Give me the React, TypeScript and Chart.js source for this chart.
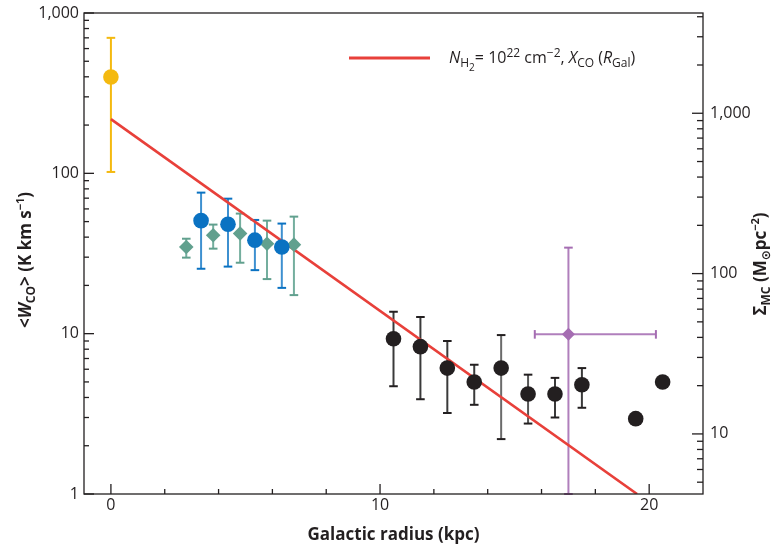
import React, { useEffect, useRef } from "react";
import { Chart, registerables } from "chart.js";
Chart.register(...registerables);

// ---- data (Galactic radius in kpc, W_CO in K km s^-1) ----
const modelR = [0, 19.55];
const modelW = [218, 1];

const yellowR = [0];
const yellowW = [399];
const yellowLo = [102];
const yellowHi = [700];

const tealR = [2.8, 3.8, 4.8, 5.8, 6.8];
const tealW = [34.7, 41.1, 42.1, 36.4, 35.9];
const tealLo = [29.8, 33.9, 27.7, 21.9, 17.4];
const tealHi = [39.1, 47.9, 56.1, 50.7, 53.7];

const blueR = [3.35, 4.35, 5.35, 6.35];
const blueW = [50.7, 48.1, 38.3, 34.7];
const blueLo = [25.4, 26.2, 24.9, 19.3];
const blueHi = [75.8, 69.5, 51.2, 48.6];

const blackR = [10.5, 11.5, 12.5, 13.5, 14.5, 15.5, 16.5, 17.5, 19.5, 20.5];
const blackW = [9.3, 8.3, 6.1, 5.0, 6.1, 4.2, 4.2, 4.8, 2.95, 5.0];
const blackLo = [4.7, 3.9, 3.2, 3.6, 2.2, 2.75, 3.0, 3.45, null, null];
const blackHi = [13.7, 12.7, 9.0, 6.4, 9.8, 5.55, 5.3, 6.1, null, null];

const purpleR = [17.0];
const purpleW = [9.9];
const purpleLo = [1.0];
const purpleHi = [34.4];
const purpleRLo = [15.75];
const purpleRHi = [20.25];

const xTickLabels = [0, 10, 20];
const xMinorTicks = [2, 4, 6, 8, 12, 14, 16, 18];
const yTickLabels = [1, 10, 100, 1000];
const y2TickLabels = [10, 100, 1000];

const INK = "#231F20";
const FONT = "'Open Sans', 'Noto Sans', 'DejaVu Sans', sans-serif";

type Seg = { t: string; size: number; bold?: boolean; italic?: boolean; dy?: number };

function fontOf(s: Seg) {
  return `${s.italic ? "italic " : ""}${s.bold ? "bold " : ""}${s.size}px ${FONT}`;
}

function drawRich(ctx: CanvasRenderingContext2D, segs: Seg[], x: number, y: number, center: boolean) {
  ctx.textBaseline = "alphabetic";
  ctx.textAlign = "left";
  let total = 0;
  for (const s of segs) {
    ctx.font = fontOf(s);
    total += ctx.measureText(s.t).width;
  }
  let cx = center ? x - total / 2 : x;
  for (const s of segs) {
    ctx.font = fontOf(s);
    ctx.fillText(s.t, cx, y + (s.dy || 0));
    cx += ctx.measureText(s.t).width;
  }
}

const pts = (xs: number[], ys: number[]) => xs.map((v, i) => ({ x: v, y: ys[i] }));

const decor = {
  id: "decor",
  beforeDatasetsDraw(chart: any) {
    const { ctx, chartArea: a } = chart;
    const x = chart.scales.x;
    const y = chart.scales.y;
    ctx.save();
    ctx.beginPath();
    ctx.rect(a.left, a.top - 2, a.right - a.left, a.bottom - a.top + 4);
    ctx.clip();
    ctx.lineWidth = 2;
    ctx.lineCap = "butt";
    const seg = (x1: number, y1: number, x2: number, y2: number, c: string) => {
      ctx.strokeStyle = c;
      ctx.beginPath();
      ctx.moveTo(x1, y1);
      ctx.lineTo(x2, y2);
      ctx.stroke();
    };
    chart.data.datasets.forEach((ds: any) => {
      const e = ds.err;
      if (!e) return;
      ds.data.forEach((p: any, i: number) => {
        const px = x.getPixelForValue(p.x);
        const py = y.getPixelForValue(p.y);
        const lc = Array.isArray(e.line) ? e.line[i] : e.line;
        const cc = Array.isArray(e.cap) ? e.cap[i] : e.cap;
        const cw = 4.3;
        if (e.lo && e.lo[i] != null && e.hi[i] != null) {
          const yl = y.getPixelForValue(e.lo[i]);
          const yh = y.getPixelForValue(e.hi[i]);
          seg(px, yl, px, yh, lc);
          seg(px - cw, yl, px + cw, yl, cc);
          seg(px - cw, yh, px + cw, yh, cc);
        }
        if (e.xlo && e.xlo[i] != null) {
          const xl = x.getPixelForValue(e.xlo[i]);
          const xh = x.getPixelForValue(e.xhi[i]);
          seg(xl, py, xh, py, lc);
          seg(xl, py - cw, xl, py + cw, cc);
          seg(xh, py - cw, xh, py + cw, cc);
        }
      });
    });
    ctx.restore();
  },
  afterDraw(chart: any) {
    const { ctx, chartArea: a } = chart;
    const x = chart.scales.x;
    const y = chart.scales.y;
    const y2 = chart.scales.y2;
    ctx.save();
    ctx.strokeStyle = INK;
    ctx.lineWidth = 1.3;
    ctx.strokeRect(a.left, a.top, a.right - a.left, a.bottom - a.top);
    const line = (x1: number, y1: number, x2: number, y2v: number) => {
      ctx.beginPath();
      ctx.moveTo(x1, y1);
      ctx.lineTo(x2, y2v);
      ctx.stroke();
    };
    xTickLabels.forEach((v) => {
      const p = x.getPixelForValue(v);
      line(p, a.bottom, p, a.bottom - 10);
    });
    xMinorTicks.forEach((v) => {
      const p = x.getPixelForValue(v);
      line(p, a.bottom, p, a.bottom - 5);
    });
    yTickLabels.forEach((v) => {
      const p = y.getPixelForValue(v);
      line(a.left, p, a.left + 10, p);
    });
    [1, 10, 100].forEach((d) => {
      for (let m = 2; m <= 9; m++) {
        const p = y.getPixelForValue(d * m);
        line(a.left, p, a.left + 5, p);
      }
    });
    y2TickLabels.forEach((v) => {
      const p = y2.getPixelForValue(v);
      line(a.right, p, a.right - 11, p);
    });
    [1, 10, 100, 1000].forEach((d) => {
      for (let m = 2; m <= 9; m++) {
        const v = d * m;
        if (v < y2.min || v > y2.max) continue;
        const p = y2.getPixelForValue(v);
        line(a.right, p, a.right - 6, p);
      }
    });

    ctx.fillStyle = INK;
    ctx.font = `bold 17px ${FONT}`;
    ctx.textAlign = "center";
    ctx.textBaseline = "middle";
    ctx.fillText("Galactic radius (kpc)", (a.left + a.right) / 2, 535);

    ctx.save();
    ctx.translate(31, 260);
    ctx.rotate(-Math.PI / 2);
    drawRich(
      ctx,
      [
        { t: "<", size: 17, bold: true },
        { t: "W", size: 17, bold: true, italic: true },
        { t: "CO", size: 12, bold: true, dy: 4 },
        { t: "> (K km s", size: 17, bold: true },
        { t: "\u22121", size: 11, bold: true, dy: -7 },
        { t: ")", size: 17, bold: true },
      ],
      0,
      0,
      true
    );
    ctx.restore();

    ctx.save();
    ctx.translate(766, 264);
    ctx.rotate(-Math.PI / 2);
    drawRich(
      ctx,
      [
        { t: "\u03A3", size: 17, bold: true },
        { t: "MC", size: 12, bold: true, dy: 4 },
        { t: " (M", size: 17, bold: true },
        { t: "\u2299", size: 12, bold: true, dy: 4 },
        { t: "pc", size: 17, bold: true },
        { t: "\u22122", size: 11, bold: true, dy: -7 },
        { t: ")", size: 17, bold: true },
      ],
      0,
      0,
      true
    );
    ctx.restore();

    ctx.strokeStyle = "#E8403A";
    ctx.lineWidth = 2.8;
    line(349, 58, 430, 58);
    ctx.fillStyle = INK;
    drawRich(
      ctx,
      [
        { t: "N", size: 16, italic: true },
        { t: "H", size: 12, dy: 4 },
        { t: "2", size: 10, dy: 8 },
        { t: "= 10", size: 16 },
        { t: "22", size: 12, dy: -6 },
        { t: " cm", size: 16 },
        { t: "\u22122", size: 12, dy: -6 },
        { t: ", ", size: 16 },
        { t: "X", size: 16, italic: true },
        { t: "CO", size: 12, dy: 4 },
        { t: " (", size: 16 },
        { t: "R", size: 16, italic: true },
        { t: "Gal", size: 12, dy: 4 },
        { t: ")", size: 16 },
      ],
      449,
      63,
      false
    );
    ctx.restore();
  },
};

const fmt = (v: any) => Number(v).toLocaleString("en-US");

export default function App() {
  const ref = useRef<HTMLCanvasElement | null>(null);
  useEffect(() => {
    if (!ref.current) return;
    const chart = new Chart(ref.current, {
      type: "scatter",
      data: {
        datasets: [
          {
            label: "model",
            type: "line",
            data: pts(modelR, modelW),
            borderColor: "#E8403A",
            borderWidth: 2.6,
            pointRadius: 0,
            fill: false,
            order: 10,
          } as any,
          {
            label: "yellow",
            data: pts(yellowR, yellowW),
            pointStyle: "circle",
            pointRadius: 7.8,
            backgroundColor: "#F4B90F",
            borderWidth: 0,
            err: { lo: yellowLo, hi: yellowHi, line: "#F4B90F", cap: "#F4B90F" },
            order: 1,
          },
          {
            label: "teal",
            data: pts(tealR, tealW),
            pointStyle: "rectRot",
            pointRadius: 7.3,
            backgroundColor: "#61A08E",
            borderWidth: 0,
            err: { lo: tealLo, hi: tealHi, line: "#74AE9E", cap: "#61A08E" },
            order: 1,
          },
          {
            label: "blue",
            data: pts(blueR, blueW),
            pointStyle: "circle",
            pointRadius: 7.8,
            backgroundColor: "#0A72C2",
            borderWidth: 0,
            err: { lo: blueLo, hi: blueHi, line: "#3E90D0", cap: "#0A72C2" },
            order: 0,
          },
          {
            label: "black",
            data: pts(blackR, blackW),
            pointStyle: "circle",
            pointRadius: 7.8,
            backgroundColor: INK,
            borderWidth: 0,
            err: {
              lo: blackLo,
              hi: blackHi,
              line: ["#3a3a3a", "#3a3a3a", "#3a3a3a", "#3a3a3a", "#6b6b6b", "#555", "#3a3a3a", "#3a3a3a", INK, INK],
              cap: INK,
            },
            order: 0,
          },
          {
            label: "purple",
            data: pts(purpleR, purpleW),
            pointStyle: "rectRot",
            pointRadius: 6.5,
            backgroundColor: "#A56DB2",
            borderWidth: 0,
            err: { lo: purpleLo, hi: purpleHi, xlo: purpleRLo, xhi: purpleRHi, line: "#B07FBC", cap: "#A56DB2" },
            order: 0,
          },
        ] as any,
      },
      options: {
        animation: false,
        responsive: true,
        maintainAspectRatio: false,
        layout: { padding: { top: 13, left: 0, right: 0, bottom: 0 } },
        plugins: { legend: { display: false }, tooltip: { enabled: false } },
        scales: {
          x: {
            type: "linear",
            min: -1,
            max: 22,
            grid: { display: false, drawTicks: false },
            border: { display: false },
            ticks: {
              padding: 2,
              color: INK,
              font: { family: FONT, size: 16 },
              callback: (v: any) => fmt(v),
            },
            afterBuildTicks: (s: any) => {
              s.ticks = xTickLabels.map((v) => ({ value: v }));
            },
            afterFit: (s: any) => {
              s.height = 55;
              s.paddingLeft = 0;
              s.paddingRight = 0;
            },
          },
          y: {
            type: "logarithmic",
            position: "left",
            min: 1,
            max: 1000,
            grid: { display: false, drawTicks: false },
            border: { display: false },
            ticks: {
              padding: 5,
              color: INK,
              font: { family: FONT, size: 16 },
              callback: (v: any) => fmt(v),
            },
            afterBuildTicks: (s: any) => {
              s.ticks = yTickLabels.map((v) => ({ value: v }));
            },
            afterFit: (s: any) => {
              s.width = 84;
              s.paddingTop = 0;
              s.paddingBottom = 0;
            },
          },
          y2: {
            type: "logarithmic",
            position: "right",
            min: 4.22,
            max: 4220,
            grid: { display: false, drawTicks: false },
            border: { display: false },
            ticks: {
              padding: 7,
              color: INK,
              font: { family: FONT, size: 16 },
              callback: (v: any) => fmt(v),
            },
            afterBuildTicks: (s: any) => {
              s.ticks = y2TickLabels.map((v) => ({ value: v }));
            },
            afterFit: (s: any) => {
              s.width = 72;
              s.paddingTop = 0;
              s.paddingBottom = 0;
            },
          },
        },
      } as any,
      plugins: [decor],
    });
    return () => chart.destroy();
  }, []);
  return (
    <div style={{ position: "fixed", left: 0, top: 0, width: 775, height: 549, background: "#fff" }}>
      <canvas ref={ref} />
    </div>
  );
}
